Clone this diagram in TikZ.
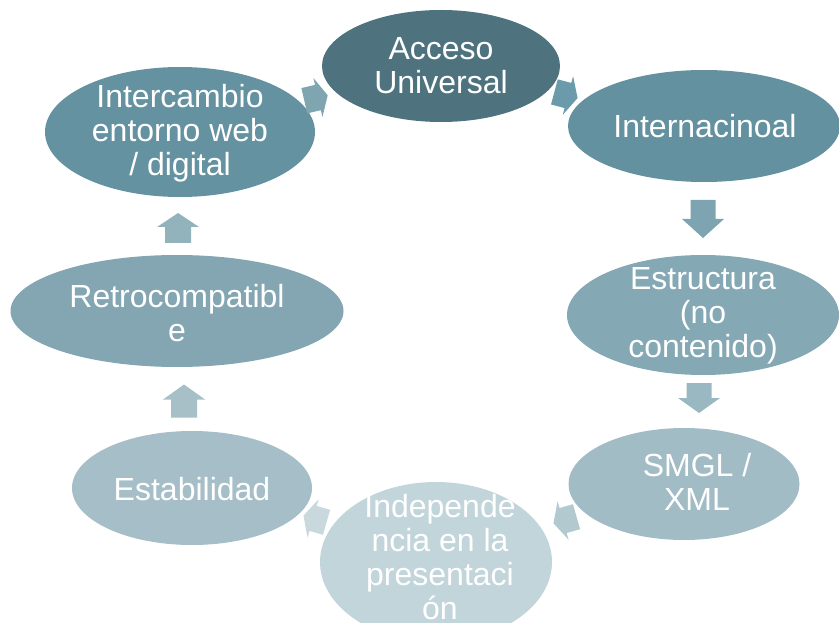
\documentclass[tikz,border=0pt]{standalone}
\usepackage{fontspec}
\setmainfont{Liberation Sans}
\usetikzlibrary{shapes.geometric}
\definecolor{cA}{HTML}{4F737E}
\definecolor{cB}{HTML}{6391A0}
\definecolor{cC}{HTML}{84A8B4}
\definecolor{cD}{HTML}{A2BCC6}
\definecolor{cE}{HTML}{C2D5DB}
\definecolor{cF}{HTML}{A5BEC7}
\definecolor{cG}{HTML}{83A6B2}
\definecolor{cH}{HTML}{6592A0}
\definecolor{aTL}{HTML}{7FA5B1}
\definecolor{aTR}{HTML}{6B9BAA}
\definecolor{aR1}{HTML}{7FA4B1}
\definecolor{aR2}{HTML}{9AB8C2}
\definecolor{aBR}{HTML}{B3C9D0}
\definecolor{aBL}{HTML}{C8D8DD}
\definecolor{aL1}{HTML}{A7C0C8}
\definecolor{aL2}{HTML}{92B2BC}
\newcommand\blockarr[9]{% x y angle L W s h color name
  \coordinate (#9) at (#1,#2);
  \fill[#8, shift={(#9)}, rotate=#3]
    ({-#4/2},{-#6/2}) -- ({#4/2-#7},{-#6/2}) -- ({#4/2-#7},{-#5/2}) -- ({#4/2},0)
    -- ({#4/2-#7},{#5/2}) -- ({#4/2-#7},{#6/2}) -- ({-#4/2},{#6/2}) -- cycle;
}
\tikzset{
  blob/.style={ellipse, draw=none, inner sep=0pt},
  txt/.style={text=white, align=center, font=\fontsize{32}{34}\selectfont, inner sep=0pt}
}
\begin{document}
\begin{tikzpicture}[x=1pt,y=-1pt]
\useasboundingbox (0,0) rectangle (839,623);
% ellipses
\node[blob, fill=cE, minimum width=232, minimum height=160] (e5) at (436,562) {};
\node[blob, fill=cA, minimum width=238, minimum height=112] (e1) at (441,66) {};
\node[blob, fill=cB, minimum width=272, minimum height=112] (e2) at (704,126) {};
\node[blob, fill=cC, minimum width=272, minimum height=120] (e3) at (703,315) {};
\node[blob, fill=cD, minimum width=231, minimum height=112] (e4) at (684,484) {};
\node[blob, fill=cF, minimum width=240, minimum height=114] (e6) at (192,488) {};
\node[blob, fill=cG, minimum width=333, minimum height=112] (e7) at (177,311) {};
\node[blob, fill=cH, minimum width=270, minimum height=130] (e8) at (180,132) {};
% texts
\node[txt] (t1) at (441,66) {Acceso\\Universal};
\node[txt] (t2) at (705,126) {Internacinoal};
\node[txt] (t3) at (703,316) {Estructura\\(no\\contenido)};
\node[txt] (t4) at (697,482) {SMGL /\\XML};
\node[txt] (t5) at (440,557) {Independe\\ncia en la\\presentaci\\ón};
\node[txt] (t6) at (192,489) {Estabilidad};
\node[txt] (t7) at (177,313) {Retrocompatibl\\e};
\node[txt] (t8) at (180,133) {Intercambio\\entorno web\\/ digital};
% block arrows
\blockarr{316}{98}{13}{24}{40}{26}{10}{aTL}{a81}
\blockarr{566}{95}{-15}{24}{40}{26}{10}{aTR}{a12}
\blockarr{703}{219}{-90}{38}{42}{25}{19}{aR1}{a23}
\blockarr{699}{398}{-90}{30}{42}{25}{15}{aR2}{a34}
\blockarr{565}{520}{196}{24}{40}{26}{10}{aBR}{a45}
\blockarr{315}{519}{164}{24}{40}{26}{10}{aBL}{a56}
\blockarr{184}{401}{90}{33}{42}{26}{15}{aL1}{a67}
\blockarr{178}{228}{90}{30}{42}{26}{14}{aL2}{a78}
\end{tikzpicture}
\end{document}
